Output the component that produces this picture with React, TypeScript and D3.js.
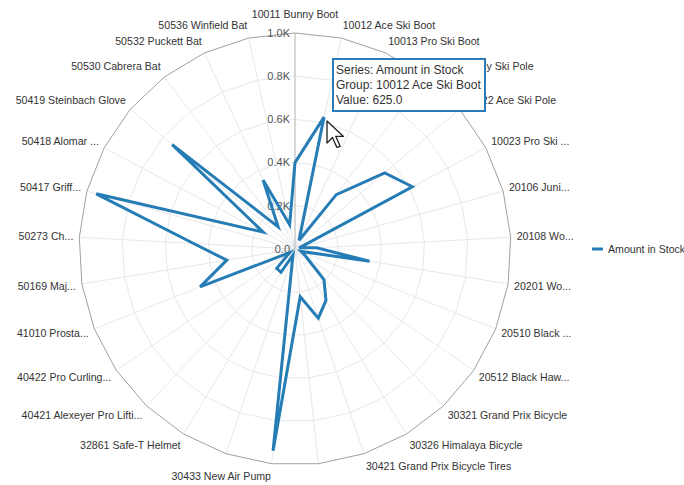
import React, { useEffect, useRef } from 'react';
import * as d3 from 'd3';

const categories = [
  '10011 Bunny Boot', '10012 Ace Ski Boot', '10013 Pro Ski Boot', '10021 Sunny Ski Pole',
  '10022 Ace Ski Pole', '10023 Pro Ski Pole', '20106 Junior Soccer Ball', '20108 World Cup Soccer Ball',
  '20201 World Cup Net', '20510 Black Hawk Knee Pads', '20512 Black Hawk Elbow Pads',
  '30321 Grand Prix Bicycle', '30326 Himalaya Bicycle', '30421 Grand Prix Bicycle Tires',
  '30426 Himalaya Tires', '30433 New Air Pump', '32779 Slaker Water Bottle', '32861 Safe-T Helmet',
  '40421 Alexeyer Pro Lifting Bar', '40422 Pro Curling Bar', '41010 Prostar 10 Pound Weight',
  '50169 Major League Baseball', '50273 Chapman Helmet', '50417 Griffey Glove', '50418 Alomar Glove',
  '50419 Steinbach Glove', '50530 Cabrera Bat', '50532 Puckett Bat', '50536 Winfield Bat',
];
const amountInStock = [
  400, 625, 45, 316, 545, 615, 20, 100, 350, 30, 60, 195, 278, 338, 222, 940,
  30, 126, 123, 30, 473, 320, 470, 955, 167, 746, 129, 352, 115,
];
const tickValues = [0, 200, 400, 600, 800, 1000];
const tickLabels = ['0.0', '0.2K', '0.4K', '0.6K', '0.8K', '1.0K'];
const seriesName = 'Amount in Stock';
const tooltipLines = ['Series: Amount in Stock', 'Group: 10012 Ace Ski Boot', 'Value: 625.0'];

const FONT = '"Liberation Sans", Arial, sans-serif';
const BLUE = '#267db5';

export default function App() {
  const ref = useRef<SVGSVGElement>(null);
  useEffect(() => {
    const svg = d3.select(ref.current);
    svg.selectAll('*').remove();
    const cx = 295, cy = 249, R = 216;
    const N = categories.length;
    const r = d3.scaleLinear().domain([0, 1000]).range([0, R]);
    const ang = d3.scaleLinear().domain([0, N]).range([0, 2 * Math.PI]);
    const idx = d3.range(N);

    svg.append('rect').attr('width', 684).attr('height', 485).attr('fill', '#fff');
    const g = svg.append('g').attr('transform', `translate(${cx},${cy})`);

    // spokes
    g.selectAll('line.spoke').data(idx.slice(1)).join('line')
      .attr('x1', 0).attr('y1', 0)
      .attr('x2', (i) => R * Math.sin(ang(i))).attr('y2', (i) => -R * Math.cos(ang(i)))
      .attr('stroke', '#e6e8ec').attr('stroke-width', 1);

    // rings
    const ring = (v: number) => d3.lineRadial<number>()
      .angle((i) => ang(i)).radius(() => r(v)).curve(d3.curveLinearClosed)(idx);
    g.selectAll('path.ring').data(tickValues.slice(1)).join('path')
      .attr('d', (v) => ring(v))
      .attr('fill', 'none')
      .attr('stroke', (v) => (v === 1000 ? '#a0a0a0' : '#e6e8ec'))
      .attr('stroke-width', 1);

    // value axis line
    g.append('line').attr('x1', 0).attr('y1', 0).attr('x2', 0).attr('y2', -R)
      .attr('stroke', '#b0b0b0').attr('stroke-width', 1);
    g.selectAll('text.tick').data(tickValues).join('text')
      .attr('x', -5).attr('y', (v) => -r(v))
      .attr('dy', '0.35em').attr('text-anchor', 'end')
      .attr('font-family', FONT).attr('font-size', 11).attr('fill', '#555')
      .text((_, i) => tickLabels[i]);

    // series
    const area = d3.lineRadial<number>()
      .angle((_, i) => ang(i)).radius((d) => r(d)).curve(d3.curveLinearClosed);
    g.append('path').attr('d', area(amountInStock))
      .attr('fill', 'none').attr('stroke', BLUE).attr('stroke-width', 3)
      .attr('stroke-linejoin', 'miter');

    // category labels
    const canvas = document.createElement('canvas');
    const ctx = canvas.getContext('2d')!;
    const fs = 10.6;
    ctx.font = `${fs}px "Liberation Sans", Arial, sans-serif`;
    const leftBound = 15.3 - cx, rightBound = 573.8 - cx;
    const boxes: { x0: number; x1: number; y0: number; y1: number }[] = [];
    idx.forEach((i) => {
      const a = ang(i);
      const s = Math.sin(a), c = Math.cos(a);
      const x = 222 * s;
      let y = -229 * c;
      let anchor = 'middle';
      if (s > 0.05) anchor = 'start';
      else if (s < -0.05) anchor = 'end';
      else if (c > 0) y -= 6;
      let text = categories[i];
      const avail = anchor === 'start' ? rightBound - x : anchor === 'end' ? x - leftBound : 9999;
      if (ctx.measureText(text).width > avail) {
        let t = text;
        while (t.length > 0 && ctx.measureText(t + '...').width > avail) t = t.slice(0, -1);
        text = t + '...';
      }
      const w = ctx.measureText(text).width;
      const x0 = anchor === 'start' ? x : anchor === 'end' ? x - w : x - w / 2;
      const box = { x0, x1: x0 + w, y0: y - 6.5, y1: y + 6.5 };
      const hit = boxes.some((b) => b.x0 < box.x1 && box.x0 < b.x1 && b.y0 < box.y1 && box.y0 < b.y1);
      if (hit) return;
      boxes.push(box);
      g.append('text').attr('x', x).attr('y', y).attr('dy', '0.35em')
        .attr('text-anchor', anchor).attr('font-family', FONT).attr('font-size', fs)
        .attr('fill', '#333').text(text);
    });

    // legend
    const lg = svg.append('g');
    const ly = 249;
    lg.append('line').attr('x1', 592).attr('x2', 603).attr('y1', ly).attr('y2', ly)
      .attr('stroke', BLUE).attr('stroke-width', 3);
    lg.append('text').attr('x', 608).attr('y', ly).attr('dy', '0.35em')
      .attr('font-family', FONT).attr('font-size', 10.6).attr('fill', '#333').text(seriesName);

    // tooltip
    const tt = svg.append('g').attr('transform', 'translate(333,59)');
    tt.append('rect').attr('x', 1).attr('y', 1).attr('width', 152).attr('height', 52)
      .attr('fill', 'rgba(0,0,0,0.08)');
    tt.append('rect').attr('width', 152).attr('height', 52)
      .attr('fill', '#fff').attr('stroke', '#2a7ab9').attr('stroke-width', 2);
    tooltipLines.forEach((l, k) => {
      tt.append('text').attr('x', 3).attr('y', 11 + k * 15).attr('dy', '0.35em')
        .attr('font-family', FONT).attr('font-size', 12).attr('fill', '#333').text(l);
    });

    // mouse cursor
    const cur = [[0, 0], [0, 20], [5, 15], [9, 24], [12, 23], [8, 14], [15, 14]];
    svg.append('path')
      .attr('transform', 'translate(327,121) scale(1.1)')
      .attr('d', d3.line()(cur as [number, number][]) + 'Z')
      .attr('fill', '#fff').attr('stroke', '#222').attr('stroke-width', 1.2)
      .attr('stroke-linejoin', 'round');
  }, []);
  return (
    <svg ref={ref} width={684} height={485}
      style={{ position: 'absolute', left: 0, top: 0, display: 'block' }} />
  );
}
